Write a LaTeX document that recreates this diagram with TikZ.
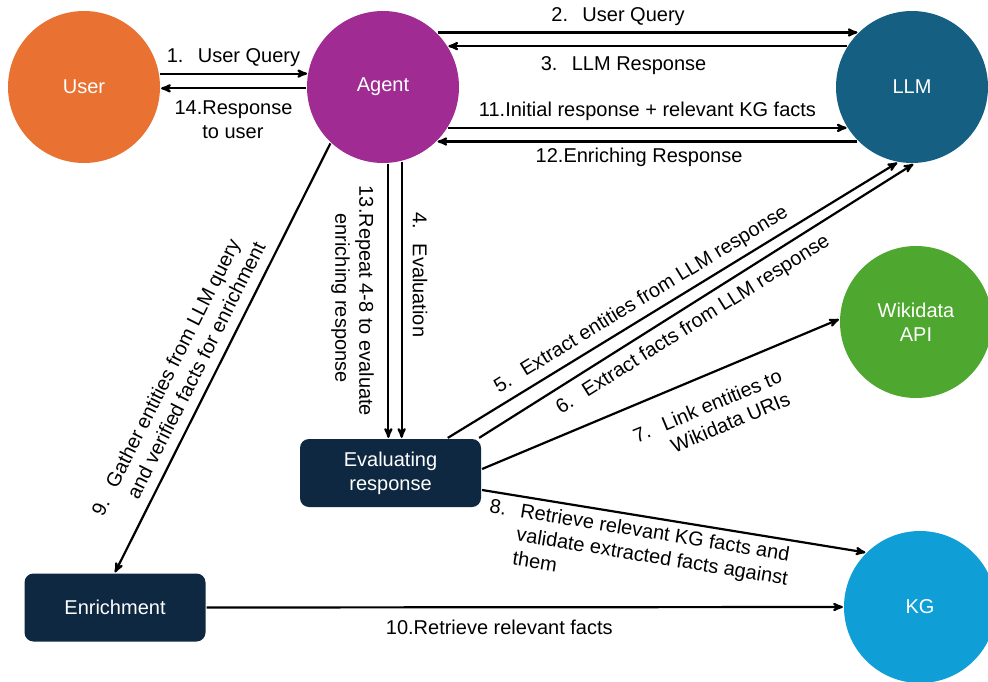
\documentclass[tikz,border=0pt]{standalone}
\usepackage{fontspec}
\setmainfont{Liberation Sans}
\usetikzlibrary{arrows}
\definecolor{userorange}{HTML}{E97132}
\definecolor{agentpurple}{HTML}{A02B93}
\definecolor{llmteal}{HTML}{156082}
\definecolor{wikigreen}{HTML}{4EA72E}
\definecolor{kgblue}{HTML}{0F9ED5}
\definecolor{boxnavy}{HTML}{0E2841}
% numbered label with hanging indent
\newcommand{\steplbl}[3][1.55em]{\begin{tabular}{@{}l@{}l@{}}\makebox[#1][l]{#2}&#3\end{tabular}}

\begin{document}
\begin{tikzpicture}[x=1pt,y=-1pt,font=\fontsize{20}{24}\selectfont]
    \useasboundingbox (0,0) rectangle (988,682);
    \clip (0,0) rectangle (988,682);
    \begin{scope}[>=stealth', line width=2.2pt, inner sep=3pt, text centered,
    		actor/.style={circle,minimum size=152pt,text=white,align=center},
    		block/.style={rectangle,rounded corners=9pt,fill=boxnavy,text=white,
    		              minimum width=181pt,minimum height=68pt,align=center},
    		arrow/.style={black, ->}]

    \node[actor,fill=userorange](user) at (84,87) {User};
    \node[actor,fill=agentpurple](agent) at (383,87) {Agent};
    \node[actor,fill=llmteal](llm) at (912,87) {LLM};
    \node[actor,fill=wikigreen](wiki) at (916,322) {Wikidata\\API};
    \node[actor,fill=kgblue](kg) at (920,607) {KG};
    \node[block](eval) at (390.5,473) {Evaluating\\response};
    \node[block](enrich) at (115,607.5) {Enrichment};

    % user <-> agent
    \draw[arrow] (user.10) -- node[midway,above]{\steplbl{1.}{User Query}} (agent.170);
    \draw[arrow] (agent.181) -- node[midway,below=5pt]{\steplbl[\width]{14.}{Response\\&to user}} (user.359);

    % agent <-> llm
    \draw[arrow] (agent.45) -- node[pos=0.43,above]{\steplbl{2.}{User Query}} (llm.135);
    \draw[arrow] (llm.148) -- node[pos=0.56,below=3pt]{\steplbl{3.}{LLM Response}} (agent.32);
    \draw[arrow] (agent.-32) -- node[midway,above]{\steplbl[\width]{11.}{Initial response + relevant KG facts}} (llm.212);
    \draw[arrow] (llm.225) -- node[pos=0.52,below]{\steplbl[\width]{12.}{Enriching Response}} (agent.-45);

    % evaluation loop
    \draw[arrow] (agent.-76) -- node[pos=0.41,rotate=-90,above]{\steplbl{4.}{Evaluation}} (agent.-76 |- eval.north);
    \draw[arrow] (agent.-86) -- node[pos=0.5,xshift=-8pt,rotate=-90,below]
        {\steplbl[\width]{13.}{Repeat 4-8 to evaluate\\&enriching response}} (agent.-86 |- eval.north);

    % evaluating response -> services
    \draw[arrow] (eval) -- node[pos=0.45,above,sloped]{\steplbl{5.}{Extract entities from LLM response}} (llm.-101);
    \draw[arrow] ([xshift=-3pt]eval.north east) -- node[pos=0.47,below=3pt,sloped]{\steplbl{6.}{Extract facts from LLM response}} (llm.-89);
    \draw[arrow] ([yshift=4pt]eval.east) -- node[pos=0.6,below=15pt,sloped]{\steplbl{7.}{Link entities to\\&Wikidata URIs}} (wiki.178);
    \draw[arrow] ([yshift=-17pt]eval.east) -- node[pos=0.42,below,sloped]
        {\steplbl{8.}{Retrieve relevant KG facts and\\&validate extracted facts against\\&them}} (kg.135);

    % enrichment
    \draw[arrow,<-] (enrich.north) -- node[pos=0.42,above,sloped]
        {\steplbl{9.}{Gather entities from LLM query\\&and verified facts for enrichment}} (agent.-133);
    \draw[arrow] (enrich.east) -- node[pos=0.46,below=6pt]{\steplbl[\width]{10.}{Retrieve relevant facts}} (kg.west);

    \end{scope}
\end{tikzpicture}
\end{document}
